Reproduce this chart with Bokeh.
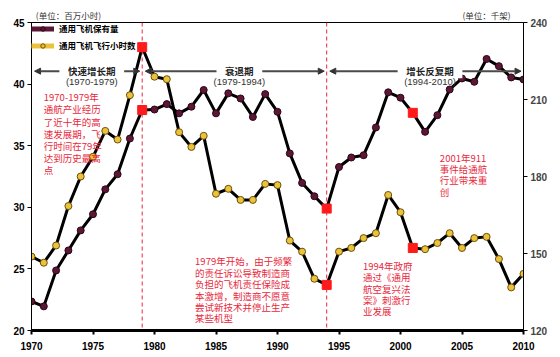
from bokeh.plotting import figure
from bokeh.models import (Range1d, LinearAxis, Span, Label, Arrow, NormalHead,
                          Legend, LegendItem, FixedTicker, ColumnDataSource)
from bokeh.embed import file_html
from bokeh.resources import INLINE

years = list(range(1970, 2011))
hours = [26.0, 25.5, 26.9, 30.1, 32.5, 34.1, 36.2, 35.5, 39.1, 43.0,
         40.6, 40.4, 36.1, 34.9, 35.8, 31.1, 31.5, 30.6, 30.6, 31.9,
         31.8, 27.3, 26.4, 24.2, 23.7, 26.4, 26.7, 27.5, 27.9, 31.0,
         29.6, 26.7, 26.6, 27.1, 27.9, 26.7, 27.5, 27.6, 25.8, 23.5, 24.6]
fleet = [131.3, 129.4, 143.4, 151.2, 159.0, 165.3, 175.0, 180.9, 194.8, 205.9,
         206.1, 208.2, 204.6, 207.2, 213.7, 204.6, 212.4, 210.4, 203.2, 212.1,
         205.2, 189.0, 177.5, 172.3, 167.5, 183.7, 187.4, 188.3, 199.1, 212.8,
         210.7, 204.8, 197.4, 203.9, 213.9, 218.2, 216.9, 225.8, 223.0, 218.6, 217.8]
highlight_years = [1979, 1994, 2001]
period_bounds = [(1970, 1979), (1979, 1994), (1994, 2010)]
period_names = ["快速增长期", "衰退期", "增长反复期"]
period_years = ["(1970-1979)", "(1979-1994)", "(1994-2010)"]
series_names = ["通用飞机保有量", "通用飞机飞行小时数"]
unit_labels = {1973: "(单位：百万小时)", 2007: "(单位：千架)"}
x_ticks = [1970, 1975, 1980, 1985, 1990, 1995, 2000, 2005, 2010]
left_ticks = [20, 25, 30, 35, 40, 45]
right_ticks = [120, 150, 180, 210, 240]
notes = [
    (1971.0, 39.5, 0.87, "1970-1979年\n通航产业经历\n了近十年的高\n速发展期，飞\n行时间在79年\n达到历史最高\n点"),
    (1983.3, 26.17, 0.81, "1979年开始，由于频繁\n的责任诉讼导致制造商\n负担的飞机责任保险成\n本激增，制造商不愿意\n尝试新技术并停止生产\n某些机型"),
    (1996.95, 25.8, 0.81, "1994年政府\n通过《通用\n航空复兴法\n案》刺激行\n业发展"),
    (2003.2, 34.6, 0.81, "2001年911\n事件给通航\n行业带来重\n创"),
]

MAROON = "#5c1636"
YELLOW = "#ecc23c"
RED = "#ff1a1a"
NOTE_RED = "#e8283c"
CJK = "Noto Sans CJK SC"
NAN = float("nan")

p = figure(width=552, height=354, output_backend="svg", toolbar_location=None,
           x_range=Range1d(1970, 2010), y_range=Range1d(20, 45),
           min_border_left=31, min_border_right=29, min_border_top=22,
           min_border_bottom=24)
p.extra_y_ranges = {"right": Range1d(120, 240)}
p.grid.visible = False
p.outline_line_color = "black"
p.outline_line_width = 1
p.background_fill_color = "white"

tick_font = "Liberation Sans"
for ax in [p.xaxis[0], p.yaxis[0]]:
    ax.major_label_text_font = tick_font
    ax.major_label_text_font_style = "bold"
    ax.major_label_text_font_size = "10px"
    ax.major_label_text_color = "black"
    ax.minor_tick_line_color = None
    ax.major_tick_in = 0
    ax.major_tick_out = 4
    ax.axis_line_color = "black"
    ax.major_tick_line_color = "black"
p.xaxis[0].ticker = FixedTicker(ticks=x_ticks)
p.xaxis[0].axis_line_width = 3
p.xaxis[0].major_tick_line_width = 2
p.xaxis[0].major_label_standoff = 7
p.yaxis[0].ticker = FixedTicker(ticks=left_ticks)
p.yaxis[0].major_label_standoff = 3

rax = LinearAxis(y_range_name="right", ticker=FixedTicker(ticks=right_ticks))
rax.major_label_text_font = tick_font
rax.major_label_text_font_style = "bold"
rax.major_label_text_font_size = "10px"
rax.minor_tick_line_color = None
rax.major_tick_in = 0
rax.major_tick_out = 4
rax.major_label_standoff = 3
p.add_layout(rax, "right")

# unit headers as an unlined top axis
tax = LinearAxis(ticker=FixedTicker(ticks=list(unit_labels.keys())),
                 major_label_overrides=unit_labels)
tax.axis_line_color = None
tax.major_tick_line_color = None
tax.minor_tick_line_color = None
tax.major_label_text_font = CJK
tax.major_label_text_font_size = "8.5px"
tax.major_label_text_color = "#333333"
tax.major_label_standoff = 2
tax.major_tick_out = 0
tax.major_tick_in = 0
p.add_layout(tax, "above")

# dashed period boundaries
for yr in highlight_years[:2]:
    p.add_layout(Span(location=yr, dimension="height", line_color=NOTE_RED,
                      line_dash="4 3", line_width=1))

src = ColumnDataSource(dict(year=years, hours=hours, fleet=fleet))
hl = ColumnDataSource(dict(year=highlight_years,
                           hours=[hours[years.index(y)] for y in highlight_years],
                           fleet=[fleet[years.index(y)] for y in highlight_years]))

p.line("year", "fleet", source=src, y_range_name="right", line_color="black", line_width=3)
r_fleet = p.scatter("year", "fleet", source=src, y_range_name="right", size=7,
                    fill_color=MAROON, line_color="#2a0614", line_width=1)
p.line("year", "hours", source=src, line_color="black", line_width=3)
r_hours = p.scatter("year", "hours", source=src, size=7,
                    fill_color=YELLOW, line_color="#6a5008", line_width=1)
p.scatter("year", "fleet", source=hl, y_range_name="right", marker="square",
          size=9, fill_color=RED, line_color=RED)
p.scatter("year", "hours", source=hl, marker="square",
          size=9, fill_color=RED, line_color=RED)

# legend swatches (lines carry no visible data)
lf = p.line([NAN], [NAN], line_color=MAROON, line_width=5)
lh = p.line([NAN], [NAN], line_color=YELLOW, line_width=5)
legend = Legend(items=[LegendItem(label=series_names[0], renderers=[lf, r_fleet]),
                       LegendItem(label=series_names[1], renderers=[lh, r_hours])],
                location="top_left", margin=0, padding=6, spacing=5,
                glyph_width=23, glyph_height=11, label_height=11, label_standoff=5,
                label_text_font=CJK, label_text_font_size="8.5px",
                label_text_font_style="bold", label_text_color="black",
                label_text_line_height=0.9,
                background_fill_alpha=0, border_line_color=None)
p.add_layout(legend)

# period arrows
arrow_y = 41.05
for (a, b), name, yrs in zip(period_bounds, period_names, period_years):
    p.add_layout(Arrow(x_start=a + 0.25, x_end=b - 0.2, y_start=arrow_y, y_end=arrow_y,
                       line_color="#4a4a4a", line_width=2,
                       start=NormalHead(size=6, fill_color="#333", line_color="#333"),
                       end=NormalHead(size=6, fill_color="#333", line_color="#333")))
    mid = (a + b) / 2 + 0.4
    nb = "\u00a0" * 4
    p.add_layout(Label(x=mid, y=arrow_y, text=nb + name + nb, text_align="center",
                       text_baseline="middle", text_font=CJK, text_font_size="9.5px",
                       text_font_style="bold", text_color="#222",
                       background_fill_color="white"))
    p.add_layout(Label(x=mid, y=40.2, text=yrs, text_align="center",
                       text_baseline="middle", text_font="Liberation Sans",
                       text_font_size="9.5px", text_color="#333"))

# red notes
for x, y, lh_, t in notes:
    p.add_layout(Label(x=x, y=y, text=t, text_align="left", text_baseline="top",
                       text_font=CJK, text_font_size="9.5px", text_color=NOTE_RED,
                       text_line_height=lh_))

open("out.html", "w").write(file_html(p, INLINE))
